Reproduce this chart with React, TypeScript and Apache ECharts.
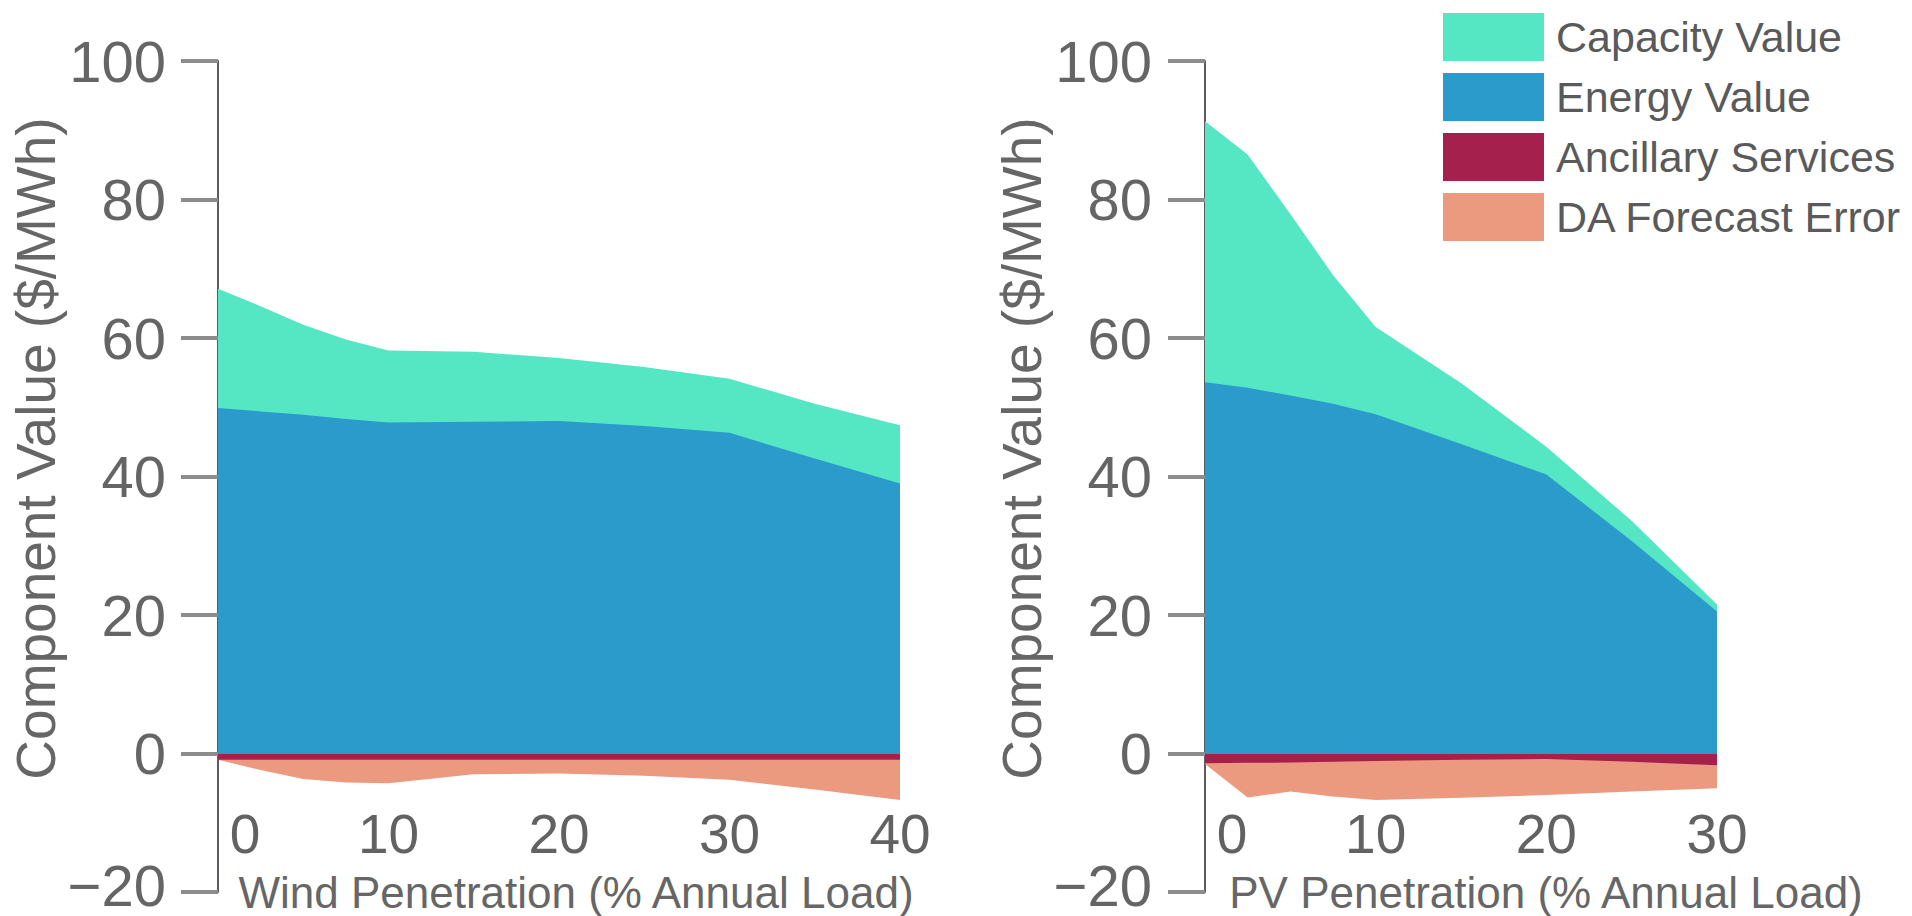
import React, { useEffect, useRef } from 'react';
import * as echarts from 'echarts';

const FONT = '"Liberation Sans", Arial, sans-serif';

// Legend / series names
const seriesNames = ['Capacity Value', 'Energy Value', 'Ancillary Services', 'DA Forecast Error'];
const colors: Record<string, string> = {
  'Capacity Value': '#55E6C4',
  'Energy Value': '#2A9BCB',
  'Ancillary Services': '#A5204D',
  'DA Forecast Error': '#EB9A7F',
};

// Wind chart data (x = % annual load)
const windX = [0, 2.5, 5, 7.5, 10, 15, 20, 25, 30, 35, 40];
const windEnergy = [49.9, 49.4, 48.9, 48.3, 47.8, 47.9, 48.0, 47.3, 46.3, 42.6, 39.0];
const windCapacity = [17.2, 15.2, 13.0, 11.5, 10.4, 10.1, 9.1, 8.5, 7.8, 7.9, 8.4];
const windAncillary = [-0.9, -0.9, -0.9, -0.9, -0.9, -0.9, -0.9, -0.9, -0.9, -0.9, -0.9];
const windDAError = [0, -1.5, -2.8, -3.3, -3.4, -2.1, -2.0, -2.3, -2.9, -4.3, -5.8];

// PV chart data
const pvX = [0, 2.5, 5, 7.5, 10, 15, 20, 25, 30];
const pvEnergy = [53.6, 52.8, 51.7, 50.5, 49.0, 44.7, 40.3, 30.7, 20.5];
const pvCapacity = [37.7, 33.7, 26.2, 18.6, 12.6, 8.8, 4.0, 2.9, 1.0];
const pvAncillary = [-1.4, -1.35, -1.3, -1.2, -1.1, -0.9, -0.8, -1.2, -1.7];
const pvDAError = [-0.1, -5.0, -4.2, -5.0, -5.6, -5.5, -5.2, -4.3, -3.3];

// Axis ticks
const yMin = -20;
const yMax = 100;
const yStep = 20;
const windXMax = 40;
const pvXMax = 30;
const xStep = 10;

const yTitle = 'Component Value ($/MWh)';
const windXTitle = 'Wind Penetration (% Annual Load)';
const pvXTitle = 'PV Penetration (% Annual Load)';

// stacked values (each band is drawn from 0 to its cumulative edge, later bands on top)
const addArr = (a: number[], b: number[]) => a.map((v, i) => +(v + b[i]).toFixed(3));
const zip = (xs: number[], ys: number[]) => xs.map((x, i) => [x, ys[i]]);

function areaSeries(name: string, idx: number, xs: number[], ys: number[]) {
  return {
    name,
    type: 'line',
    xAxisIndex: idx,
    yAxisIndex: idx,
    data: zip(xs, ys),
    symbol: 'none',
    showSymbol: false,
    lineStyle: { width: 0, color: colors[name] },
    itemStyle: { color: colors[name] },
    areaStyle: { color: colors[name], opacity: 1, origin: 0 },
    emphasis: { disabled: true },
    silent: true,
  };
}

function chartSeries(idx: number, xs: number[], energy: number[], capacity: number[], anc: number[], da: number[]) {
  return [
    areaSeries('Capacity Value', idx, xs, addArr(energy, capacity)),
    areaSeries('Energy Value', idx, xs, energy),
    areaSeries('DA Forecast Error', idx, xs, addArr(anc, da)),
    areaSeries('Ancillary Services', idx, xs, anc),
  ];
}

function yAxis(idx: number, margin: number, nameGap: number) {
  return {
    type: 'value',
    gridIndex: idx,
    min: yMin,
    max: yMax,
    interval: yStep,
    name: yTitle,
    nameLocation: 'middle',
    nameGap,
    nameTextStyle: {
      fontSize: 55,
      fontFamily: FONT,
      color: '#666666',
      padding: [0, 0, 0, 56],
    },
    axisLine: { show: true, lineStyle: { color: '#5c5c5c', width: 2 } },
    axisTick: { show: true, length: 37, lineStyle: { color: '#8c8c8c', width: 4 } },
    splitLine: { show: false },
    axisLabel: {
      margin,
      fontSize: 58,
      lineHeight: 40,
      fontFamily: FONT,
      color: '#656565',
      formatter: (v: number) => (v < 0 ? '{n|\u2212' + -v + '}' : String(v)),
      rich: {
        n: {
          fontSize: 58,
          lineHeight: 30,
          fontFamily: FONT,
          color: '#656565',
          padding: [0, 0, 14, 0],
        },
      },
    },
  };
}

function xAxis(idx: number, max: number, title: string, zeroPad: number, namePad: number) {
  return {
    type: 'value',
    gridIndex: idx,
    min: 0,
    max,
    interval: xStep,
    name: title,
    nameLocation: 'middle',
    nameGap: -22,
    nameTextStyle: {
      fontSize: 44,
      fontFamily: FONT,
      color: '#666666',
      padding: [0, 0, 0, namePad],
    },
    axisLine: { show: false },
    axisTick: { show: false },
    splitLine: { show: false },
    axisLabel: {
      inside: true,
      margin: 31,
      fontSize: 55,
      fontFamily: FONT,
      color: '#626262',
      formatter: (v: number) => (v === 0 ? '{z|0}' : String(v)),
      rich: {
        z: { fontSize: 55, fontFamily: FONT, color: '#626262', padding: [0, 0, 0, zeroPad] },
      },
    },
  };
}

export default function App() {
  const ref = useRef<HTMLDivElement>(null);
  useEffect(() => {
    const chart = echarts.init(ref.current!, null, { renderer: 'svg' });
    const option = {
      animation: false,
      backgroundColor: '#ffffff',
      grid: [
        { left: 218, top: 61, width: 682, height: 831, outerBoundsMode: 'none', containLabel: false },
        { left: 1205, top: 61, width: 512, height: 831, outerBoundsMode: 'none', containLabel: false },
      ],
      xAxis: [
        xAxis(0, windXMax, windXTitle, 54, 34),
        xAxis(1, pvXMax, pvXTitle, 54, 170),
      ],
      yAxis: [yAxis(0, 52, 142), yAxis(1, 53, 122)],
      legend: {
        data: seriesNames,
        orient: 'vertical',
        left: 1443,
        top: 13,
        padding: 0,
        itemWidth: 101,
        itemHeight: 48,
        itemGap: 12,
        icon: 'rect',
        selectedMode: false,
        itemStyle: { borderWidth: 0 },
        textStyle: { fontSize: 43, fontFamily: FONT, color: '#5a5a5a', padding: [0, 0, 0, 7] },
      },
      graphic: [
        {
          type: 'text',
          x: 329,
          y: 553,
          silent: true,
          style: {
            text: 'Wind',
            fill: '#ffffff',
            fontSize: 48,
            fontWeight: 'bold',
            fontStyle: 'italic',
            fontFamily: FONT,
            verticalAlign: 'middle',
            align: 'left',
          },
        },
        {
          type: 'text',
          x: 1312,
          y: 549,
          silent: true,
          style: {
            text: 'PV',
            fill: '#ffffff',
            fontSize: 50,
            fontWeight: 'bold',
            fontStyle: 'italic',
            fontFamily: FONT,
            verticalAlign: 'middle',
            align: 'left',
          },
        },
      ],
      series: [
        ...chartSeries(0, windX, windEnergy, windCapacity, windAncillary, windDAError),
        ...chartSeries(1, pvX, pvEnergy, pvCapacity, pvAncillary, pvDAError),
      ],
    };
    chart.setOption(option as any);
    return () => chart.dispose();
  }, []);
  return (
    <div
      ref={ref}
      style={{ position: 'fixed', left: 0, top: 0, width: 1912, height: 916 }}
    />
  );
}
